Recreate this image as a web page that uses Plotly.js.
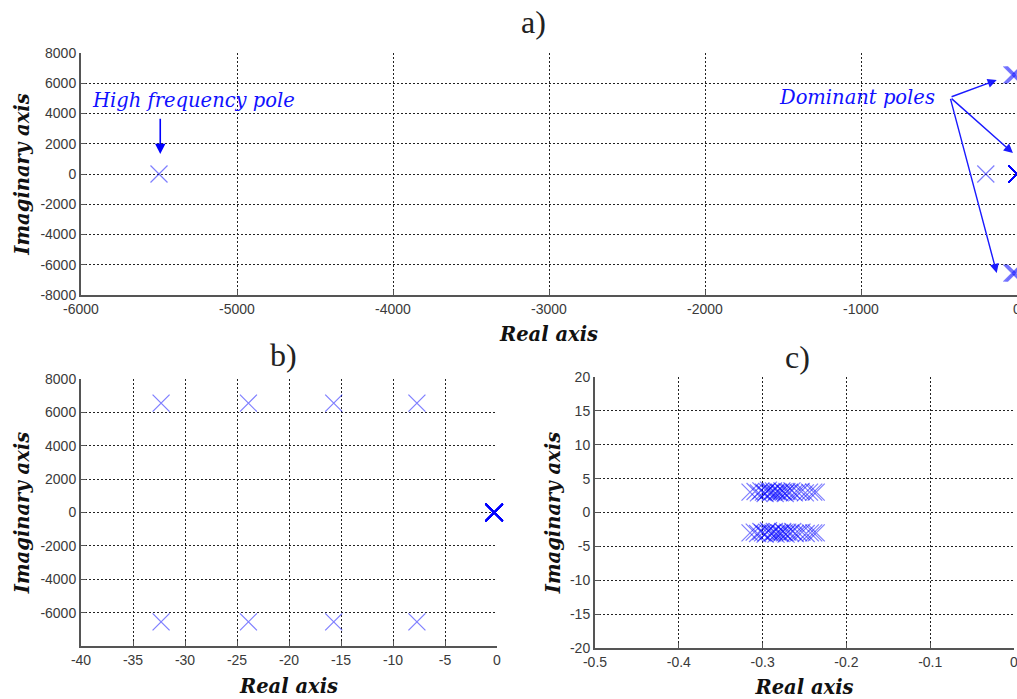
<!DOCTYPE html>
<html>
<head>
<meta charset="utf-8">
<script src="https://cdn.plot.ly/plotly-3.0.1.min.js"></script>
<style>html,body{margin:0;padding:0;background:#fff;}#chart{width:1017px;height:699px;}</style>
</head>
<body>
<div id="chart"></div>
<script>
// ---- Pole data (real part, imaginary part) ----
const highFreqRe = [-5500];
const highFreqIm = [0];
const realPoleRe = [-200];
const realPoleIm = [0];
const oscRe = [-32.3, -23.9, -15.7, -7.7, -32.3, -23.9, -15.7, -7.7];
const oscIm = [6550, 6550, 6550, 6550, -6550, -6550, -6550, -6550];
const domUpperRe = [-0.315, -0.309, -0.305, -0.302, -0.299, -0.297, -0.295, -0.293, -0.291, -0.289,
                    -0.287, -0.285, -0.283, -0.281, -0.279, -0.277, -0.275, -0.273, -0.271, -0.268,
                    -0.265, -0.262, -0.258, -0.254, -0.249, -0.244, -0.239, -0.236];
const domUpperIm = [3.0, 3.1, 2.9, 3.2, 3.0, 2.8, 3.1, 3.3, 2.9, 3.0,
                    3.2, 2.8, 3.1, 3.0, 2.9, 3.2, 3.0, 2.8, 3.1, 3.0,
                    3.2, 2.9, 3.0, 3.1, 2.9, 3.0, 3.0, 3.0];
const domLowerRe = [-0.315, -0.310, -0.306, -0.302, -0.300, -0.297, -0.295, -0.293, -0.290, -0.288,
                    -0.286, -0.284, -0.282, -0.280, -0.278, -0.276, -0.274, -0.272, -0.270, -0.267,
                    -0.264, -0.261, -0.257, -0.253, -0.248, -0.243, -0.239, -0.236];
const domLowerIm = [-3.0, -2.9, -3.1, -2.8, -3.0, -3.2, -2.9, -2.7, -3.1, -3.0,
                    -2.8, -3.2, -2.9, -3.0, -3.1, -2.8, -3.0, -3.2, -2.9, -3.0,
                    -2.8, -3.1, -3.0, -2.9, -3.1, -3.0, -3.0, -3.0];

// ---- Tick labels ----
const aXTicks = [-6000, -5000, -4000, -3000, -2000, -1000, 0];
const aXLabels = ['-6000', '-5000', '-4000', '-3000', '-2000', '-1000', '0'];
const abYTicks = [-8000, -6000, -4000, -2000, 0, 2000, 4000, 6000, 8000];
const abYLabels = ['-8000', '-6000', '-4000', '-2000', '0', '2000', '4000', '6000', '8000'];
const bYTicks = [-6000, -4000, -2000, 0, 2000, 4000, 6000, 8000];
const bYLabels = ['-6000', '-4000', '-2000', '0', '2000', '4000', '6000', '8000'];
const bXTicks = [-40, -35, -30, -25, -20, -15, -10, -5, 0];
const bXLabels = ['-40', '-35', '-30', '-25', '-20', '-15', '-10', '-5', '0'];
const cXTicks = [-0.5, -0.4, -0.3, -0.2, -0.1, 0];
const cXLabels = ['-0.5', '-0.4', '-0.3', '-0.2', '-0.1', '0'];
const cYTicks = [-20, -15, -10, -5, 0, 5, 10, 15, 20];
const cYLabels = ['-20', '-15', '-10', '-5', '0', '5', '10', '15', '20'];

const allRe = [].concat(highFreqRe, realPoleRe, oscRe, domUpperRe, domLowerRe);
const allIm = [].concat(highFreqIm, realPoleIm, oscIm, domUpperIm, domLowerIm);

const markerStyle = {
  symbol: 'x-thin', size: 17, color: 'rgb(0,0,255)', opacity: 0.5,
  line: {color: 'rgb(0,0,255)', width: 1.2}
};

function trace(xa, ya) {
  return {x: allRe, y: allIm, type: 'scatter', mode: 'markers', xaxis: xa, yaxis: ya,
          marker: markerStyle, showlegend: false, hoverinfo: 'x+y', cliponaxis: false};
}

const tickFont = {family: 'Liberation Sans, Arial, sans-serif', size: 14, color: '#3a3a3a'};
const titleFont = {family: 'DejaVu Serif, serif', size: 19.5, weight: 'bold', style: 'italic', color: '#111'};
const noteFont = {family: 'DejaVu Serif, serif', size: 19.5, style: 'italic', color: '#1010ff'};
const panelFont = {family: 'Liberation Serif, serif', size: 32, color: '#222'};

function axis(extra) {
  return Object.assign({
    showgrid: true, gridcolor: '#222', griddash: '2px,2px', gridwidth: 1,
    showline: true, linecolor: '#555', linewidth: 2, mirror: false,
    ticks: 'inside', ticklen: 5, tickcolor: '#555', tickwidth: 1,
    zeroline: false, tickmode: 'array', tickfont: tickFont, automargin: false,
    ticklabeloverflow: 'allow', layer: 'below traces'
  }, extra);
}

const W = 1017, H = 699;
const px = v => v / W, py = v => 1 - v / H;

const layout = {
  width: W, height: H,
  margin: {l: 0, r: 0, t: 0, b: 0},
  paper_bgcolor: '#fff', plot_bgcolor: '#fff',
  showlegend: false,
  xaxis: axis({domain: [px(81), 1], range: [-6000, 0], tickvals: aXTicks, ticktext: aXLabels,
               anchor: 'y', title: {text: 'Real axis', font: titleFont, standoff: 12}}),
  yaxis: axis({domain: [py(295), py(53)], range: [-8000, 8000], tickvals: abYTicks, ticktext: abYLabels,
               anchor: 'x', title: {text: 'Imaginary axis', font: titleFont, standoff: 6}}),
  xaxis2: axis({domain: [px(81), px(497)], range: [-40, 0], tickvals: bXTicks, ticktext: bXLabels,
               anchor: 'y2', title: {text: 'Real axis', font: titleFont, standoff: 13}}),
  yaxis2: axis({domain: [py(646), py(379)], range: [-8000, 8000], tickvals: bYTicks, ticktext: bYLabels,
               anchor: 'x2', title: {text: 'Imaginary axis', font: titleFont, standoff: 6}}),
  xaxis3: axis({domain: [px(595), px(1014)], range: [-0.5, 0], tickvals: cXTicks, ticktext: cXLabels,
               anchor: 'y3', title: {text: 'Real axis', font: titleFont, standoff: 13}}),
  yaxis3: axis({domain: [py(648), py(377)], range: [-20, 20], tickvals: cYTicks, ticktext: cYLabels,
               anchor: 'x3', title: {text: 'Imaginary axis', font: titleFont, standoff: 4}}),
  annotations: [
    {xref: 'paper', yref: 'paper', x: px(533), y: py(22), xanchor: 'center', yanchor: 'middle',
     text: 'a)', showarrow: false, font: panelFont},
    {xref: 'paper', yref: 'paper', x: px(283), y: py(355), xanchor: 'center', yanchor: 'middle',
     text: 'b)', showarrow: false, font: panelFont},
    {xref: 'paper', yref: 'paper', x: px(797), y: py(357), xanchor: 'center', yanchor: 'middle',
     text: 'c)', showarrow: false, font: panelFont},
    {xref: 'x', yref: 'y', x: -5276, y: 4890, xanchor: 'center', yanchor: 'middle',
     text: 'High frequency pole', showarrow: false, font: noteFont},
    {xref: 'x', yref: 'y', x: -5492, y: 1320, axref: 'x', ayref: 'y', ax: -5492, ay: 3750,
     text: '', showarrow: true, arrowhead: 2, arrowsize: 1.3, arrowwidth: 1.6, arrowcolor: '#0000ff'},
    {xref: 'x', yref: 'y', x: -1028, y: 5070, xanchor: 'center', yanchor: 'middle',
     text: 'Dominant poles', showarrow: false, font: noteFont},
    {xref: 'x', yref: 'y', x: -130, y: 6213, axref: 'x', ayref: 'y', ax: -429, ay: 5070,
     text: '', showarrow: true, arrowhead: 2, arrowsize: 1.3, arrowwidth: 1.4, arrowcolor: '#1a1aff'},
    {xref: 'x', yref: 'y', x: -26, y: 1388, axref: 'x', ayref: 'y', ax: -429, ay: 5070,
     text: '', showarrow: true, arrowhead: 2, arrowsize: 1.3, arrowwidth: 1.4, arrowcolor: '#1a1aff'},
    {xref: 'x', yref: 'y', x: -130, y: -6544, axref: 'x', ayref: 'y', ax: -429, ay: 5070,
     text: '', showarrow: true, arrowhead: 2, arrowsize: 1.3, arrowwidth: 1.4, arrowcolor: '#1a1aff'}
  ]
};

Plotly.newPlot('chart', [trace('x', 'y'), trace('x2', 'y2'), trace('x3', 'y3')], layout,
  {displayModeBar: false, staticPlot: true});
</script>
</body>
</html>
